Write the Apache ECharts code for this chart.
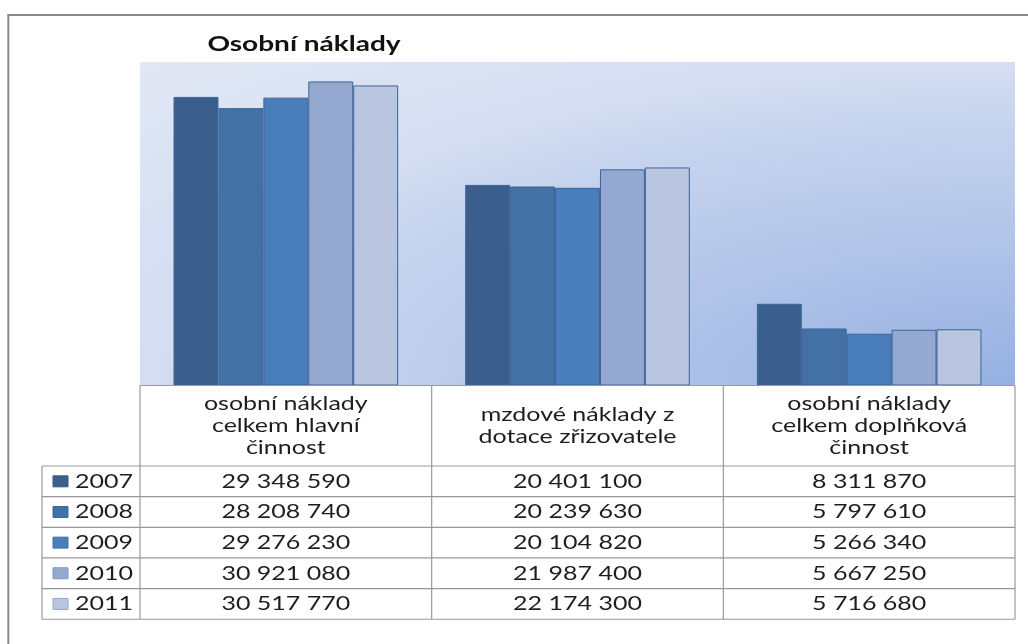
<!DOCTYPE html>
<html><head><meta charset="utf-8">
<script src="https://cdn.jsdelivr.net/npm/echarts@6/dist/echarts.min.js"></script>
<style>html,body{margin:0;padding:0;background:#fff}#c{width:1028px;height:644px}</style>
</head><body><div id="c"></div>
<script>
// ---- data ----
const chartTitle = 'Osobní náklady';
const categories = ['osobní náklady\ncelkem hlavní\nčinnost', 'mzdové náklady z\ndotace zřizovatele', 'osobní náklady\ncelkem doplňková\nčinnost'];
const years = ['2007', '2008', '2009', '2010', '2011'];
const v2007 = [29348590, 20401100, 8311870];
const v2008 = [28208740, 20239630, 5797610];
const v2009 = [29276230, 20104820, 5266340];
const v2010 = [30921080, 21987400, 5667250];
const v2011 = [30517770, 22174300, 5716680];
const seriesValues = [v2007, v2008, v2009, v2010, v2011];

// ---- style ----
const colors = ['#3B5F8D', '#4371A5', '#4A7EBB', '#95A9D0', '#BAC6DF'];
const keyBorders = ['#385A86', '#3E6899', '#4573AB', '#7F96C2', '#93A8CE'];
const FONT = 'Lato, "Open Sans", sans-serif';
const SX = 1.25;
const GL = 140, GT = 62, GW = 875, GH = 323.5;
const TAB_LEFT = 42, HEAD_BOTTOM = 466, ROW_H = 30.65;
const LINE = '#999999';

const chart = echarts.init(document.getElementById('c'));
chart.setOption({
  animation: false,
  grid: { left: GL, top: GT, width: GW, height: GH },
  xAxis: { type: 'category', data: categories, axisLine: { show: false }, axisTick: { show: false }, axisLabel: { show: false }, splitLine: { show: false } },
  yAxis: { type: 'value', min: 0, max: 32900000, show: false },
  series: years.map((y, i) => ({
    name: y, type: 'bar', data: seriesValues[i], barGap: '0%', barCategoryGap: '23%', silent: true,
    itemStyle: { color: colors[i], borderColor: '#3D6396', borderWidth: 1 }
  }))
});

const fmt = v => String(v).replace(/\B(?=(\d{3})+(?!\d))/g, '\u00a0');
const centers = categories.map((c, i) => chart.convertToPixel({ xAxisIndex: 0 }, i));
const step = GW / categories.length;
const right = GL + GW;
const yZero = chart.convertToPixel({ yAxisIndex: 0 }, 0);
const tabBottom = HEAD_BOTTOM + ROW_H * years.length;

const g = [];
// plot background (elliptical gradient from bottom-right corner)
g.push({
  type: 'rect', x: GL, y: GT, scaleX: GW / GH, z: -10,
  shape: { x: 0, y: 0, width: GH, height: GH },
  style: { fill: new echarts.graphic.RadialGradient(1, 1, 1.45, [
    { offset: 0, color: '#95B0E2' },
    { offset: 0.33, color: '#B3C5E9' },
    { offset: 0.55, color: '#C5D3EE' },
    { offset: 0.68, color: '#D4DDF1' },
    { offset: 1, color: '#E3E9F5' }
  ]) }
});
// outer frame
g.push({ type: 'rect', shape: { x: 8.3, y: 15, width: 1100, height: 700 }, style: { fill: 'none', stroke: '#888888', lineWidth: 2 }, z: 20 });
// title
g.push({ type: 'text', x: 304, y: 45, scaleX: 1.4, z: 20,
  style: { text: chartTitle, font: 'bold 20px ' + FONT, fill: '#111', align: 'center', verticalAlign: 'middle' } });
// table lines
const hl = (x1, x2, y) => g.push({ type: 'line', z: 20, shape: { x1, y1: y, x2, y2: y }, style: { stroke: LINE, lineWidth: 1.2 } });
const vl = (x, y1, y2) => g.push({ type: 'line', z: 20, shape: { x1: x, y1, x2: x, y2 }, style: { stroke: LINE, lineWidth: 1.2 } });
hl(GL, right, yZero);
for (let r = 0; r <= years.length; r++) hl(TAB_LEFT, right, HEAD_BOTTOM + r * ROW_H);
vl(TAB_LEFT, HEAD_BOTTOM, tabBottom);
for (let c = 0; c <= categories.length; c++) vl(GL + c * step, yZero, tabBottom);
// header texts
categories.forEach((c, i) => g.push({ type: 'text', x: centers[i], y: (yZero + HEAD_BOTTOM) / 2, scaleX: SX, z: 21,
  style: { text: c, font: '20px ' + FONT, lineHeight: 22, fill: '#1E1E1E', align: 'center', verticalAlign: 'middle' } }));
// rows
years.forEach((y, r) => {
  const cy = HEAD_BOTTOM + (r + 0.5) * ROW_H;
  g.push({ type: 'rect', z: 21, shape: { x: 53, y: cy - 5.5, width: 15, height: 11 }, style: { fill: colors[r], stroke: keyBorders[r], lineWidth: 1 } });
  g.push({ type: 'text', x: 75, y: cy, scaleX: SX, z: 21,
    style: { text: y, font: '20px ' + FONT, fill: '#1E1E1E', align: 'left', verticalAlign: 'middle' } });
  seriesValues[r].forEach((v, i) => g.push({ type: 'text', x: centers[i], y: cy, scaleX: SX, z: 21,
    style: { text: fmt(v), font: '20px ' + FONT, fill: '#1E1E1E', align: 'center', verticalAlign: 'middle' } }));
});
chart.setOption({ graphic: { elements: g } });
</script>
</body></html>
